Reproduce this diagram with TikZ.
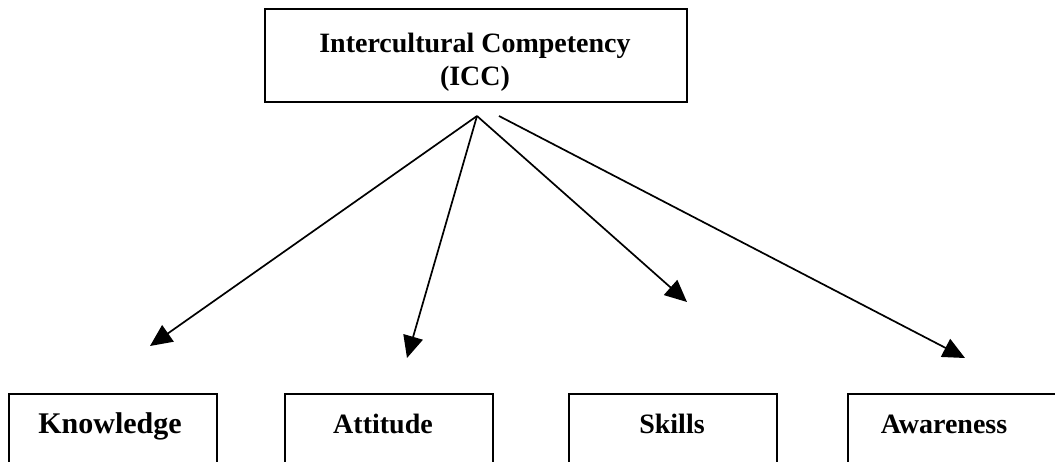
\documentclass[tikz,border=0pt]{standalone}
\usepackage{fontspec}
\setmainfont{Liberation Serif}
\usetikzlibrary{arrows.meta}
\begin{document}
\begin{tikzpicture}[x=1pt,y=-1pt,
  frame/.style={draw=black, line width=1.8pt, minimum width=208pt, minimum height=86pt, inner sep=0pt},
  lbl/.style={font=\fontsize{28}{33}\selectfont\bfseries, anchor=base, inner sep=0pt},
  conn/.style={line width=1.7pt, -{Triangle[length=22pt,width=20pt]}}]
\useasboundingbox (0,0) rectangle (1055,461);
\clip (0,0) rectangle (1055,461);
\fill[white] (0,0) rectangle (1055,461);
% top box
\node[draw=black, line width=1.8pt, minimum width=422pt, minimum height=93pt, inner sep=0pt] (icc) at (476,55.5) {};
\node[lbl] (icct1) at (475,52) {Intercultural Competency};
\node[lbl] (icct2) at (475,85) {(ICC)};
% bottom boxes
\node[frame] (kbox) at (113,437) {};
\node[frame] (abox) at (389,437) {};
\node[frame] (sbox) at (673,437) {};
\node[frame] (wbox) at (952,437) {};
\node[lbl, font=\fontsize{30}{36}\selectfont\bfseries] (kt) at (110,433) {Knowledge};
\node[lbl] (at) at (383,433) {Attitude};
\node[lbl] (st) at (672,433) {Skills};
\node[lbl] (wt) at (944,433) {Awareness};
% connectors
\coordinate (hub) at (477,116);
\coordinate (hub2) at (499,116);
\coordinate (ktip) at (150,346);
\coordinate (atip) at (407,358);
\coordinate (stip) at (687,302);
\coordinate (wtip) at (965,358);
\draw[conn] (hub) -- (ktip);
\draw[conn] (hub) -- (atip);
\draw[conn] (hub) -- (stip);
\draw[conn] (hub2) -- (wtip);
\end{tikzpicture}
\end{document}
